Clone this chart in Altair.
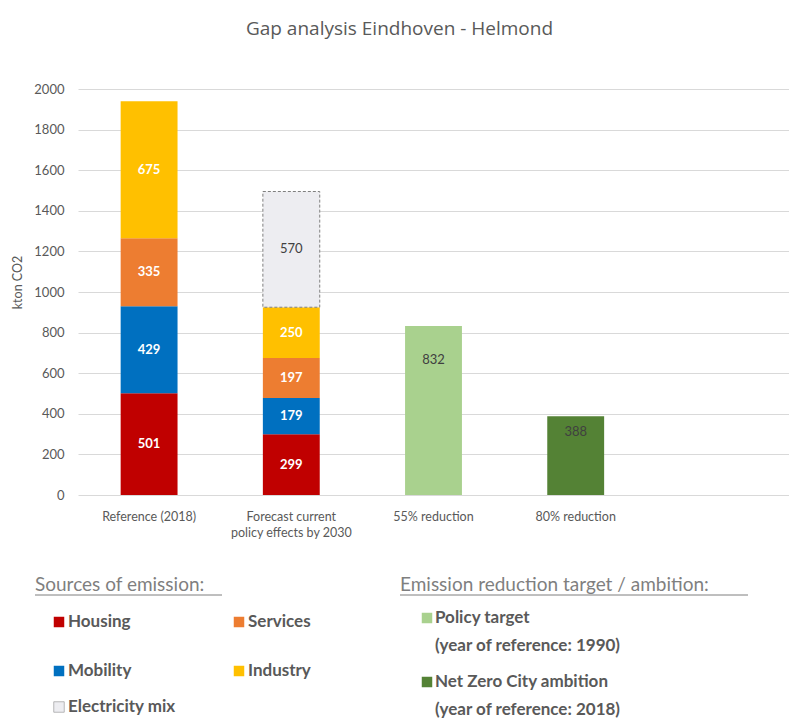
import altair as alt
import pandas as pd

# ---------------- data ----------------
categories = ["Reference (2018)", "Forecast current policy effects by 2030",
              "55% reduction", "80% reduction", " "]
sources = ["Housing", "Mobility", "Services", "Industry", "Electricity mix"]
reference_2018 = [501, 429, 335, 675, 0]
forecast_2030 = [299, 179, 197, 250, 570]

target_categories = ["55% reduction", "80% reduction"]
target_types = ["Policy target", "Net Zero City ambition"]
target_values = [832, 388]

source_colors = ["#C00000", "#0070C0", "#ED7D31", "#FFC000", "#EDEDF1"]
target_colors = ["#A9D18E", "#548235"]

rows = []
for i, s in enumerate(sources):
    if reference_2018[i] > 0:
        rows.append({"category": categories[0], "source": s, "order": i, "value": reference_2018[i]})
    rows.append({"category": categories[1], "source": s, "order": i, "value": forecast_2030[i]})
stack_df = pd.DataFrame(rows)
target_df = pd.DataFrame({"category": target_categories, "source": target_types, "value": target_values})

FONT = "Lato"
GREY = "#595959"

x_scale = alt.Scale(domain=categories, paddingInner=0.6, paddingOuter=0.3)
x_enc = alt.X("category:N", sort=categories, scale=x_scale,
              axis=alt.Axis(title=None, labelAngle=0, ticks=False, domain=False,
                            labelFont=FONT, labelFontSize=12.5, labelColor=GREY,
                            labelPadding=15, labelLimit=300, labelLineHeight=16,
                            labelExpr="datum.value == 'Forecast current policy effects by 2030' ? ['Forecast current', 'policy effects by 2030'] : datum.value"))
x_plain = alt.X("category:N", sort=categories, scale=x_scale)
y_scale = alt.Scale(domain=[0, 2000])
y_axis = alt.Axis(title="kton CO2", values=list(range(0, 2001, 200)), format="d",
                  ticks=False, domain=False,
                  grid=True, gridColor="#D9D9D9", gridWidth=1,
                  labelFont=FONT, labelFontSize=13, labelColor=GREY, labelPadding=14,
                  titleFont=FONT, titleFontSize=12.5, titleColor=GREY, titleFontWeight="normal",
                  titleX=-61, titleY=193, titleAlign="center", titleBaseline="middle", titleAngle=-90)

color_scale = alt.Scale(domain=sources + target_types, range=source_colors + target_colors)

base_stack = alt.Chart(stack_df).transform_stack(
    stack="value", groupby=["category"], as_=["y0", "y1"], sort=[alt.SortField("order")]
).transform_calculate(mid="(datum.y0 + datum.y1) / 2")

bars = base_stack.mark_bar().encode(
    x=x_enc,
    y=alt.Y("y0:Q", scale=y_scale, axis=y_axis),
    y2="y1:Q",
    color=alt.Color("source:N", scale=color_scale, legend=None),
    stroke=alt.condition(alt.datum.source == "Electricity mix", alt.value("#7F7F7F"), alt.value(None)),
    strokeDash=alt.condition(alt.datum.source == "Electricity mix", alt.value([3, 2]), alt.value([1, 0])),
    strokeWidth=alt.value(1),
)

bar_labels = base_stack.transform_filter(alt.datum.source != "Electricity mix").mark_text(
    font=FONT, fontSize=13, fontWeight="bold", color="white", baseline="middle").encode(
    x=x_plain, y=alt.Y("mid:Q", scale=y_scale), text="value:Q")

mix_labels = base_stack.transform_filter(alt.datum.source == "Electricity mix").mark_text(
    font=FONT, fontSize=13, color="#404040", baseline="middle").encode(
    x=x_plain, y=alt.Y("mid:Q", scale=y_scale), text="value:Q")

target_bars = alt.Chart(target_df).mark_bar().encode(
    x=x_plain,
    y=alt.Y("value:Q", scale=y_scale),
    color=alt.Color("source:N", scale=color_scale, legend=None),
)

target_labels = alt.Chart(target_df).transform_calculate(
    pos="datum.value * 0.8"
).mark_text(font=FONT, fontSize=13, color="#404040", baseline="middle").encode(
    x=x_plain, y=alt.Y("pos:Q", scale=y_scale), text="value:Q")

# ---------------- custom legend (layout in pixels, relative to plot origin) ----------------
anchor = pd.DataFrame({"a": [0]})
legend_layers = []

def txt(s, x, y, size=17, weight="bold", color=GREY):
    return alt.Chart(anchor).mark_text(text=s, font=FONT, fontSize=size, fontWeight=weight,
                                       color=color, align="left", baseline="middle").encode(
        x=alt.value(x), y=alt.value(y))

def sq(color, x, y, stroke=None):
    kw = dict(shape="square", size=110, filled=True, color=color, opacity=1)
    if stroke:
        kw.update(stroke=stroke, strokeWidth=0.8)
    return alt.Chart(anchor).mark_point(**kw).encode(x=alt.value(x), y=alt.value(y))

def rule(x1, x2, y):
    return alt.Chart(anchor).mark_rule(color="#7F7F7F", strokeWidth=1).encode(
        x=alt.value(x1), x2=alt.value(x2), y=alt.value(y))

legend_layers += [
    txt("Sources of emission:", -43, 496, size=19, weight="normal", color="#7F7F7F"),
    rule(-43, 144, 506),
    txt("Emission reduction target / ambition:", 322, 496, size=19, weight="normal", color="#7F7F7F"),
    rule(322, 670, 506),
]
src_pos = [(-19, 533), (-19, 582), (161, 533), (161, 582), (-19, 618)]
for s, c, (px, py) in zip(sources, source_colors, src_pos):
    legend_layers.append(sq(c, px, py, stroke="#A6A6A6" if s == "Electricity mix" else None))
    legend_layers.append(txt(s, px + 9, py))

tgt_pos = [(349, 529), (349, 593)]
tgt_sub = ["(year of reference: 1990)", "(year of reference: 2018)"]
for t, c, sub, (px, py) in zip(target_types, target_colors, tgt_sub, tgt_pos):
    legend_layers.append(sq(c, px, py))
    legend_layers.append(txt(t, px + 8, py))
    legend_layers.append(txt(sub, px + 8, py + 28))

chart = alt.layer(bars, bar_labels, mix_labels, target_bars, target_labels, *legend_layers).properties(
    width=711, height=406,
    background="white",
    title=alt.TitleParams("Gap analysis Eindhoven - Helmond", font="Open Sans", fontSize=19,
                          fontWeight="normal", color=GREY, anchor="middle", dx=-34, offset=44),
    autosize=alt.AutoSizeParams(type="none"),
    padding={"left": 78, "top": 89, "right": 0, "bottom": 223},
).configure_view(stroke=None)

chart.save("out.html", embed_options={"renderer": "svg", "actions": False})
